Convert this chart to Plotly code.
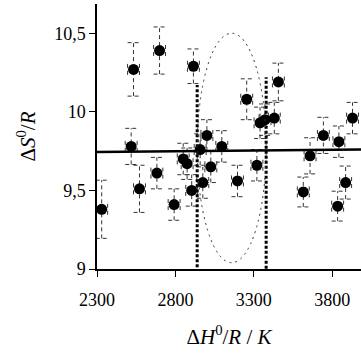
import plotly.graph_objects as go

# ---- data ----
dH = [2330, 2518, 2533, 2571, 2682, 2699, 2792, 2850, 2875, 2904,
      2915, 2958, 2975, 3001, 3026, 3096, 3196, 3255, 3320, 3340,
      3372, 3431, 3457, 3616, 3659, 3744, 3835, 3843, 3886, 3930]
dS = [9.38, 9.78, 10.27, 9.51, 9.61, 10.39, 9.41, 9.70, 9.67, 9.50,
      10.29, 9.76, 9.55, 9.85, 9.65, 9.78, 9.56, 10.08, 9.66, 9.93,
      9.95, 9.96, 10.19, 9.49, 9.72, 9.85, 9.40, 9.81, 9.55, 9.96]
dS_err = [0.185, 0.115, 0.17, 0.15, 0.10, 0.15, 0.10, 0.10, 0.10, 0.10,
          0.11, 0.10, 0.10, 0.10, 0.10, 0.10, 0.10, 0.13, 0.10, 0.10,
          0.10, 0.10, 0.12, 0.095, 0.115, 0.115, 0.095, 0.10, 0.105, 0.10]
dH_err = [38] * len(dH)

fit_x = [2300, 3984]
fit_y = [9.745, 9.76]

ellipse_x = [2939, 3379]
ellipse_y = [9.04, 10.50]
ci_left_y = [8.98, 10.17]
ci_right_y = [8.97, 10.22]

x_tickvals = [2300, 2800, 3300, 3800]
x_ticktext = ["2300", "2800", "3300", "3800"]
y_tickvals = [9, 9.5, 10, 10.5]
y_ticktext = ["9", "9,5", "10", "10,5"]

# ---- build error bar paths from data ----
cap_y = 0.035
vx, vy = [], []
for x, y, e, ex in zip(dH, dS, dS_err, dH_err):
    vx += [x, x, None]
    vy += [y - e, y + e, None]
    vx += [x - ex, x + ex, None, x - ex, x + ex, None]
    vy += [y + e, y + e, None, y - e, y - e, None]
    vx += [x - ex, x - ex, None, x + ex, x + ex, None]
    vy += [y - cap_y, y + cap_y, None, y - cap_y, y + cap_y, None]

fig = go.Figure()
fig.add_trace(go.Scatter(x=vx, y=vy, mode="lines",
                         line=dict(color="#333333", width=1, dash="4px,3px"),
                         hoverinfo="skip", showlegend=False))
fig.add_trace(go.Scatter(x=fit_x, y=fit_y, mode="lines",
                         line=dict(color="black", width=2.5), showlegend=False))
fig.add_trace(go.Scatter(x=[ellipse_x[0]] * 2, y=ci_left_y, mode="lines",
                         line=dict(color="black", width=3, dash="3px,2px"), showlegend=False))
fig.add_trace(go.Scatter(x=[ellipse_x[1]] * 2, y=ci_right_y, mode="lines",
                         line=dict(color="black", width=3, dash="3px,2px"), showlegend=False))
fig.add_trace(go.Scatter(x=dH, y=dS, mode="markers",
                         marker=dict(color="black", size=11), showlegend=False))

fig.add_shape(type="circle", xref="x", yref="y",
              x0=ellipse_x[0], x1=ellipse_x[1], y0=ellipse_y[0], y1=ellipse_y[1],
              line=dict(color="#333333", width=1, dash="2px,4px"))

font = "Liberation Serif, Times New Roman, serif"
fig.update_layout(
    width=361, height=353,
    margin=dict(l=97, r=0, t=4, b=84),
    paper_bgcolor="white", plot_bgcolor="white",
    font=dict(family=font, size=18, color="black"),
    separators=", ",
    showlegend=False,
)
fig.update_xaxes(range=[2300, 3984], tickvals=x_tickvals, ticktext=x_ticktext,
                 showgrid=False, zeroline=False, showline=True, linecolor="black",
                 linewidth=1.5, ticks="outside", ticklen=6, tickcolor="black",
                 tickfont=dict(size=18), ticklabelstandoff=8,
                 title=dict(text="Δ<i>H</i><sup>0</sup>/<i>R</i> / <i>K</i>",
                            font=dict(size=21), standoff=20))
fig.update_yaxes(range=[9, 10.686], tickvals=y_tickvals, ticktext=y_ticktext,
                 showgrid=False, zeroline=False, showline=True, linecolor="black",
                 linewidth=1.5, ticks="outside", ticklen=6, tickcolor="black",
                 tickfont=dict(size=18),
                 title=dict(text="Δ<i>S</i><sup>0</sup>/<i>R</i>",
                            font=dict(size=21), standoff=13))

fig.write_html("out.html",
               config={"displayModeBar": False},
               post_script="document.body.style.margin='0';document.body.style.overflow='hidden';")
